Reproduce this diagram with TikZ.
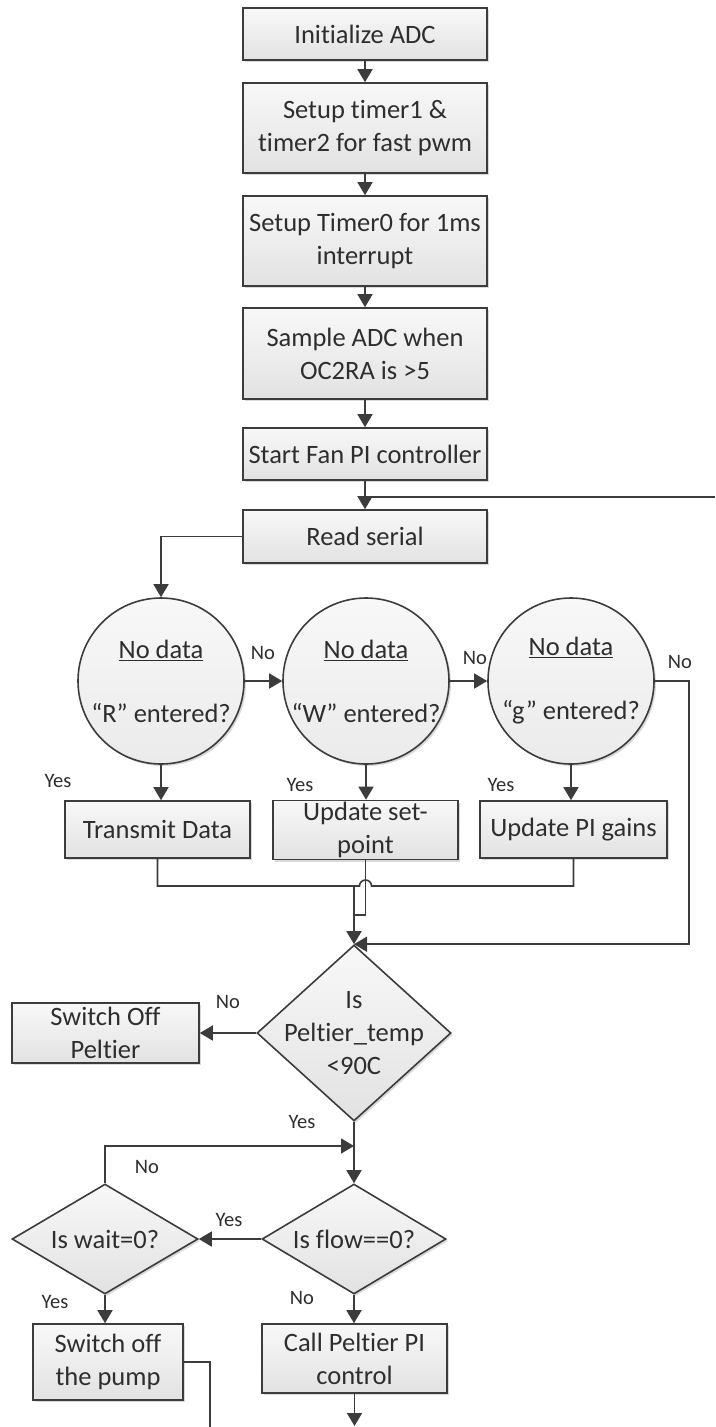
\documentclass[tikz,border=0pt]{standalone}
\usepackage{fontspec}
\setmainfont{Carlito}[Ligatures={NoCommon}]
\usetikzlibrary{arrows.meta,shapes.geometric,shadows,calc}
\definecolor{lnc}{HTML}{3C3C3C}
\definecolor{txc}{HTML}{2E2E2E}
\definecolor{fillA}{HTML}{F8F8F8}
\definecolor{fillB}{HTML}{E2E2E2}
\newcommand{\mainfs}{\fontsize{26.5}{33}\selectfont}
\newcommand{\lblfs}{\fontsize{20.5}{24}\selectfont}
\begin{document}
\begin{tikzpicture}[x=1pt,y=-1pt,
  every node/.style={text=txc},
  shd/.style={drop shadow={shadow xshift=2pt,shadow yshift=-2pt,opacity=0.15,fill=black}},
  box/.style={rectangle,draw=lnc,line width=1.6pt,top color=fillA,bottom color=fillB,
    inner sep=0pt,align=center,font=\mainfs,shd},
  circ/.style={circle,draw=lnc,line width=1.6pt,top color=fillA,bottom color=fillB!70!white,
    inner sep=0pt,minimum size=166pt,shd},
  dia/.style={diamond,draw=lnc,line width=1.6pt,top color=fillA,bottom color=fillB,
    inner sep=0pt,shd},
  ctext/.style={align=center,font=\mainfs,inner sep=0pt},
  lbl/.style={font=\lblfs,inner sep=0pt},
  arr/.style={draw=lnc,line width=1.6pt,-{Triangle[width=15pt,length=13pt]}},
  ln/.style={draw=lnc,line width=1.6pt}
]
\useasboundingbox (0,0) rectangle (715,1427);
\fill[white] (0,0) rectangle (715,1427);

% main column
\node[box,minimum width=244pt,minimum height=52pt] (init) at (365,34) {Initialize ADC};
\node[box,minimum width=244pt,minimum height=90pt] (t12) at (365,128) {Setup timer1 \&\\timer2 for fast pwm};
\node[box,minimum width=244pt,minimum height=90pt] (t0) at (365,241) {Setup Timer0 for 1ms\\interrupt};
\node[box,minimum width=244pt,minimum height=91pt] (smp) at (365,353.5) {Sample ADC when\\OC2RA is >5};
\node[box,minimum width=244pt,minimum height=52pt] (fan) at (365,454) {Start Fan PI controller};
\node[box,minimum width=244pt,minimum height=53pt] (read) at (365,536.5) {Read serial};

\draw[arr] (init) -- (t12);
\draw[arr] (t12) -- (t0);
\draw[arr] (t0) -- (smp);
\draw[arr] (smp) -- (fan);
\draw[arr] (fan) -- (read);
\coordinate (ret) at (715,497);
\draw[ln] (ret) -- (ret -| fan.south);

% circles
\node[circ] (cR) at (161,681) {};
\node[ctext] (tR) at (cR) {\underline{No data}\\[31pt]“R” entered?};
\node[circ] (cW) at (366,681) {};
\node[ctext] (tW) at (cW) {\underline{No data}\\[31pt]“W” entered?};
\node[circ] (cG) at (571,681) {};
\node[ctext] (tG) at (cG) {\underline{No data}\\[31pt]“g” entered?};

\draw[arr] (read.west) -| (cR.north);
\draw[arr] (cR.east) -- (cW.west);
\draw[arr] (cW.east) -- (cG.west);

% action boxes
\node[box,minimum width=185pt,minimum height=57pt] (tx) at (157.5,829.5) {Transmit Data};
\node[box,minimum width=185pt,minimum height=59pt] (usp) at (365.5,830) {Update set-\\point};
\node[box,minimum width=187pt,minimum height=57pt] (upi) at (573.5,829.5) {Update PI gains};

\draw[arr] (cR.south) -- (cR.south |- tx.north);
\draw[arr] (cW.south) -- (cW.south |- usp.north);
\draw[arr] (cG.south) -- (cG.south |- upi.north);

% Peltier diamond
\node[dia,minimum width=194pt,minimum height=176pt] (d1) at (354,1033) {};
\node[ctext] (t1) at (d1) {Is\\Peltier\_temp\\<90C};

% merge
\coordinate (mj) at (354,886);
\draw[ln] (tx.south) -- (157.5,886) -- (359.5,886)
  arc[start angle=180,end angle=0,radius=6pt] -- (573.5,886) -- (upi.south);
\draw[ln] (usp.south) -- (365.5,915) -- (354,915);
\draw[arr] (mj) -- (d1.north);
\draw[arr] (cG.east) -- ++(34,0) |- (d1.north);

\node[box,minimum width=187pt,minimum height=60pt] (soff) at (105.5,1033) {Switch Off\\Peltier};
\draw[arr] (d1.west) -- (soff.east);

% flow / wait
\node[dia,minimum width=184pt,minimum height=110pt] (d2) at (354,1239) {};
\node[ctext] (t2) at (d2) {Is flow==0?};
\node[dia,minimum width=186pt,minimum height=110pt] (d3) at (105,1239) {};
\node[ctext] (t3) at (d3) {Is wait=0?};
\coordinate (jn) at (354,1146);
\draw[arr] (d1.south) -- (d2.north);
\draw[arr] (d3.north) |- (jn);
\draw[arr] (d2.west) -- (d3.east);

\node[box,minimum width=150pt,minimum height=76pt] (pump) at (108,1362) {Switch off\\the pump};
\node[box,minimum width=185pt,minimum height=69pt] (call) at (354.5,1358.5) {Call Peltier PI\\control};
\draw[arr] (d3.south) -- (d3.south |- pump.north);
\draw[arr] (d2.south) -- (d2.south |- call.north);
\coordinate (endA) at (354.5,1426);
\draw[arr] (call.south) -- (endA);
\coordinate (endB) at (210,1427);
\draw[ln] (pump.east) -| (endB);

% labels
\node[lbl] (l1) at (263,653) {No};
\node[lbl] (l2) at (475,658) {No};
\node[lbl] (l3) at (680,662) {No};
\node[lbl] (l4) at (58,781) {Yes};
\node[lbl] (l5) at (300,785) {Yes};
\node[lbl] (l6) at (501,785) {Yes};
\node[lbl] (l7) at (228,1002) {No};
\node[lbl] (l8) at (302,1122) {Yes};
\node[lbl] (l9) at (147,1167) {No};
\node[lbl] (l10) at (229,1220) {Yes};
\node[lbl] (l11) at (55,1302) {Yes};
\node[lbl] (l12) at (302,1298) {No};
\end{tikzpicture}
\end{document}
